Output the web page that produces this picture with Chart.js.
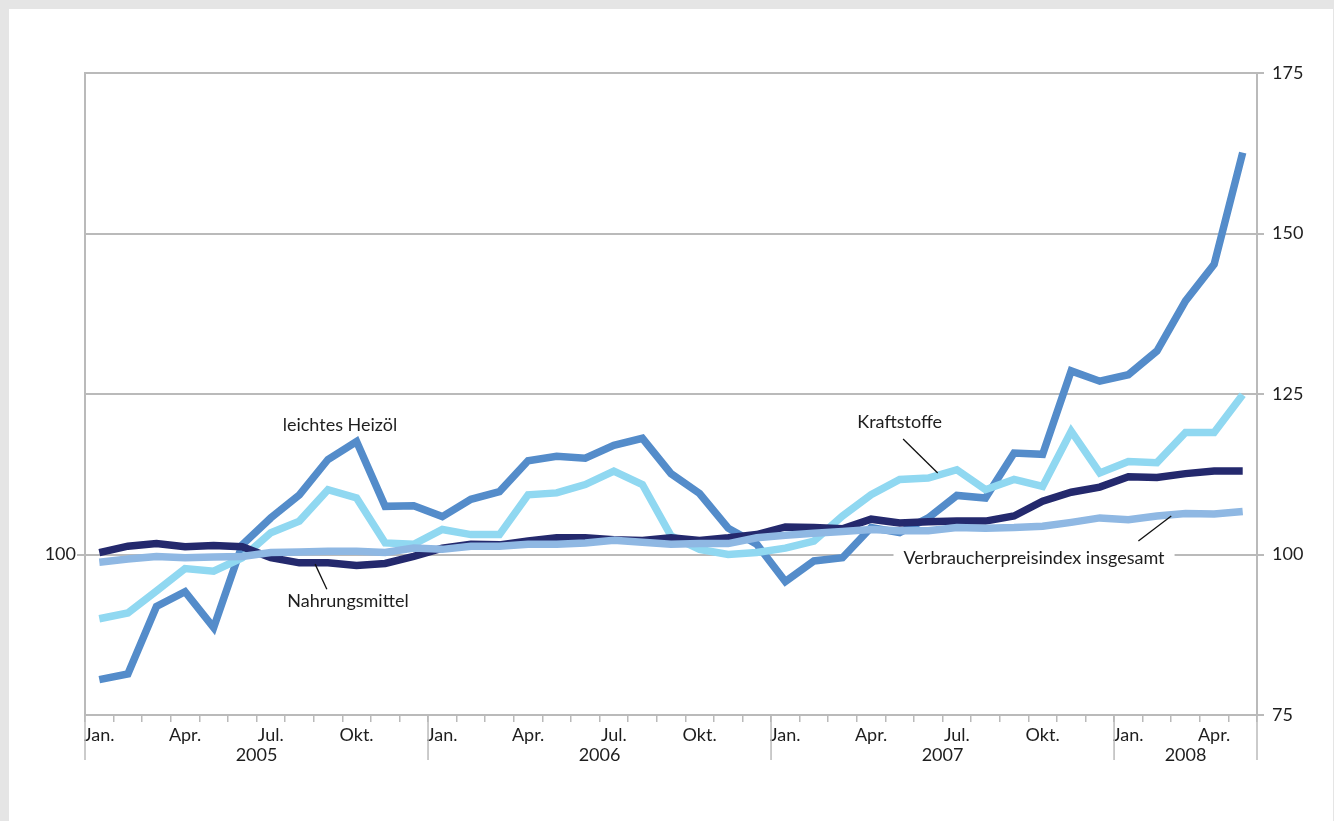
<!DOCTYPE html>
<html>
<head>
<meta charset="utf-8">
<script src="https://cdn.jsdelivr.net/npm/chart.js@4.4.1/dist/chart.umd.min.js"></script>
<style>
  html, body { margin: 0; padding: 0; background: #e5e5e5; }
  body { width: 1334px; height: 821px; position: relative; overflow: hidden; }
  #panel { position: absolute; left: 9px; top: 9px; width: 1324px; height: 812px; background: #fff; }
  #chart { display: block; }
</style>
</head>
<body>
<div id="panel"><canvas id="chart" width="1324" height="812"></canvas></div>
<script>
// Monate Jan. 2005 bis Mai 2008, nur jedes Quartal beschriftet
const monthLabels = [
  'Jan.', '', '', 'Apr.', '', '', 'Jul.', '', '', 'Okt.', '', '',
  'Jan.', '', '', 'Apr.', '', '', 'Jul.', '', '', 'Okt.', '', '',
  'Jan.', '', '', 'Apr.', '', '', 'Jul.', '', '', 'Okt.', '', '',
  'Jan.', '', '', 'Apr.', ''
];
const years = ['2005', '2006', '2007', '2008'];
const monthsPerYear = [12, 12, 12, 5];
const yTicks = [75, 100, 125, 150, 175];

// Indexwerte
const heizoel = [
  80.5, 81.4, 91.9, 94.2, 88.6, 101.5, 105.7, 109.3, 114.8, 117.6, 107.5, 107.6,
  105.9, 108.6, 109.8, 114.6, 115.3, 115.0, 117.0, 118.1, 112.6, 109.5, 104.1, 101.6,
  95.8, 99.0, 99.5, 104.2, 103.4, 105.7, 109.2, 108.8, 115.8, 115.6, 128.6, 127.0,
  128.0, 131.7, 139.5, 145.2, 162.6
];
const kraftstoffe = [
  90.0, 90.9, 94.3, 97.8, 97.4, 99.5, 103.4, 105.2, 110.1, 108.8, 101.8, 101.6,
  103.9, 103.1, 103.1, 109.3, 109.6, 110.9, 113.0, 110.9, 102.9, 100.8, 100.0, 100.3,
  101.0, 102.1, 106.0, 109.3, 111.7, 111.9, 113.2, 110.1, 111.7, 110.6, 119.2, 112.7,
  114.5, 114.3, 119.0, 119.0, 124.9
];
const nahrungsmittel = [
  100.3, 101.3, 101.7, 101.2, 101.4, 101.2, 99.5, 98.7, 98.7, 98.3, 98.6, 99.7,
  101.0, 101.6, 101.5, 102.1, 102.6, 102.6, 102.3, 102.2, 102.6, 102.2, 102.6, 103.1,
  104.3, 104.2, 104.0, 105.5, 104.9, 105.1, 105.2, 105.2, 106.0, 108.3, 109.7, 110.5,
  112.1, 112.0, 112.6, 113.0, 113.0
];
const vpi = [
  98.8, 99.3, 99.7, 99.5, 99.6, 99.7, 100.3, 100.4, 100.5, 100.5, 100.3, 101.0,
  100.8, 101.3, 101.3, 101.6, 101.6, 101.8, 102.2, 101.9, 101.6, 101.7, 101.7, 102.6,
  103.0, 103.3, 103.6, 103.9, 103.7, 103.7, 104.2, 104.1, 104.2, 104.4, 105.0, 105.7,
  105.4, 106.0, 106.4, 106.3, 106.7
];

const GRID = '#bababa';
const TEXT = '#1e1e1e';
const FONT = 'Lato, "Open Sans", sans-serif';
const FSIZE = 18;

// Beschriftungen der Linien (Position in Monatsindex / Indexwert)
const notes = [
  { text: 'leichtes Heizöl', at: [8.42, 120.2] },
  { text: 'Nahrungsmittel', at: [8.7, 92.7], line: [[7.55, 98.5], [7.96, 94.6]] },
  { text: 'Kraftstoffe', at: [28.0, 120.6], line: [[28.12, 118.0], [29.33, 112.7]] },
  { text: 'Verbraucherpreisindex insgesamt', at: [32.7, 99.4], line: [[36.35, 102.1], [37.5, 106.0]], knockout: true }
];

const notesPlugin = {
  id: 'notes',
  beforeDatasetsDraw(chart) {
    const { ctx, scales: { x, y } } = chart;
    ctx.save();
    ctx.font = FSIZE + 'px ' + FONT;
    notes.filter(n => n.knockout).forEach(n => {
      const w = ctx.measureText(n.text).width;
      const cx = x.getPixelForValue(n.at[0]);
      const cy = y.getPixelForValue(n.at[1]);
      ctx.fillStyle = '#fff';
      ctx.fillRect(cx - w / 2 - 10, cy - 12, w + 20, 24);
    });
    ctx.restore();
  },
  afterDatasetsDraw(chart) {
    const { ctx, scales: { x, y } } = chart;
    ctx.save();
    ctx.font = FSIZE + 'px ' + FONT;
    ctx.fillStyle = TEXT;
    ctx.textAlign = 'center';
    ctx.textBaseline = 'middle';
    notes.forEach(n => {
      ctx.fillText(n.text, x.getPixelForValue(n.at[0]), y.getPixelForValue(n.at[1]));
      if (n.line) {
        ctx.beginPath();
        ctx.strokeStyle = '#111';
        ctx.lineWidth = 1.3;
        ctx.moveTo(x.getPixelForValue(n.line[0][0]), y.getPixelForValue(n.line[0][1]));
        ctx.lineTo(x.getPixelForValue(n.line[1][0]), y.getPixelForValue(n.line[1][1]));
        ctx.stroke();
      }
    });
    ctx.restore();
  }
};

// Jahresbeschriftung unter den Monaten, mit langen Trennstrichen
const yearsPlugin = {
  id: 'years',
  afterDraw(chart) {
    const { ctx, chartArea, scales: { x } } = chart;
    const half = (x.getPixelForValue(1) - x.getPixelForValue(0)) / 2;
    const bottom = chartArea.bottom;
    ctx.save();
    ctx.strokeStyle = GRID;
    ctx.lineWidth = 1.5;
    ctx.fillStyle = TEXT;
    ctx.font = FSIZE + 'px ' + FONT;
    ctx.textAlign = 'center';
    ctx.textBaseline = 'middle';
    let start = 0;
    years.forEach((yr, i) => {
      const end = start + monthsPerYear[i] - 1;
      const x0 = x.getPixelForValue(start) - half;
      const x1 = x.getPixelForValue(end) + half;
      ctx.beginPath();
      ctx.moveTo(x0, bottom);
      ctx.lineTo(x0, bottom + 45);
      if (i === years.length - 1) {
        ctx.moveTo(x1, bottom);
        ctx.lineTo(x1, bottom + 45);
      }
      ctx.stroke();
      ctx.fillText(yr, (x0 + x1) / 2, bottom + 40);
      start = end + 1;
    });
    ctx.restore();
  }
};

const line = (label, data, color) => ({
  label, data,
  borderColor: color,
  backgroundColor: color,
  borderWidth: 7.5,
  pointRadius: 0,
  tension: 0,
  borderJoinStyle: 'miter',
  borderCapStyle: 'butt',
  yAxisID: 'y'
});

new Chart(document.getElementById('chart'), {
  type: 'line',
  data: {
    labels: monthLabels,
    // erster Datensatz liegt oben
    datasets: [
      line('Verbraucherpreisindex insgesamt', vpi, '#8fb8e3'),
      line('Nahrungsmittel', nahrungsmittel, '#24296d'),
      line('Kraftstoffe', kraftstoffe, '#90d8f1'),
      line('leichtes Heizöl', heizoel, '#548cca')
    ]
  },
  options: {
    responsive: false,
    animation: false,
    layout: { padding: { top: 64, left: 0, right: 0, bottom: 0 } },
    plugins: { legend: { display: false }, tooltip: { enabled: false } },
    scales: {
      x: {
        type: 'category',
        offset: true,
        grid: { offset: true, drawOnChartArea: false, drawTicks: true, tickLength: 7, color: GRID, lineWidth: 1.5 },
        border: { display: true, color: GRID, width: 2 },
        ticks: { autoSkip: false, maxRotation: 0, minRotation: 0, padding: 2, color: TEXT, font: { family: FONT, size: FSIZE } },
        afterFit(s) { s.height = 106; }
      },
      y: {
        position: 'right',
        min: 75, max: 175,
        afterBuildTicks(s) { s.ticks = yTicks.map(v => ({ value: v })); },
        grid: { color: GRID, lineWidth: 2, tickLength: 7 },
        border: { display: true, color: GRID, width: 2 },
        ticks: { padding: 8, color: TEXT, font: { family: FONT, size: FSIZE } },
        afterFit(s) { s.width = 76; }
      },
      yL: {
        position: 'left',
        min: 75, max: 175,
        afterBuildTicks(s) { s.ticks = [{ value: 100 }]; },
        grid: { drawOnChartArea: false, color: GRID, lineWidth: 2, tickLength: 8 },
        border: { display: true, color: GRID, width: 2 },
        ticks: { padding: 1, color: TEXT, font: { family: FONT, size: FSIZE } },
        afterFit(s) { s.width = 76; }
      }
    }
  },
  plugins: [notesPlugin, yearsPlugin]
});
</script>
</body>
</html>
